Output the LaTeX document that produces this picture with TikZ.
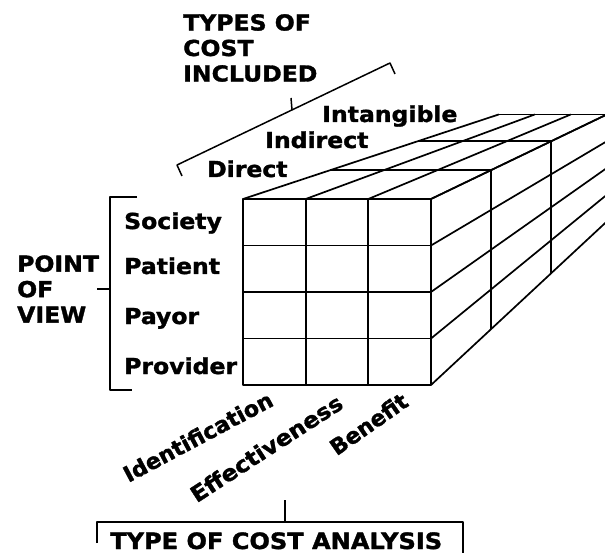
\documentclass[tikz,border=0pt]{standalone}
\usepackage{fontspec}
\usepackage{tikz}
\usetikzlibrary{calc}
\newfontfamily\cubefont{DejaVu Sans Bold}[FakeStretch=1.07, FakeBold=1.5]
\newfontfamily\cubefontn{DejaVu Sans Bold}[FakeBold=1.5]
\tikzset{
	lbl/.style={font=\cubefont\fontsize{22}{25.5}\selectfont, inner sep=0pt},
	lbln/.style={font=\cubefontn\fontsize{22}{25.5}\selectfont, inner sep=0pt},
	grid/.style={line width=1.7pt},
	brk/.style={line width=1.5pt}
}

\begin{document}
\begin{tikzpicture}[x=1pt, y=-1pt, line join=round]
	%%%%% START %%%%%
	\clip (0,0) rectangle (605,553);
	\coordinate (vp) at (845,0);
	
	% front face
	\draw[grid] (243,199) rectangle (431,385);
	\foreach \cx in {305.7,368.3}
		\draw[grid] (\cx,199) -- (\cx,385);
	\foreach \ry in {245.5,292,338.5}
		\draw[grid] (243,\ry) -- (431,\ry);
	
	% top face
	\foreach \cx in {243,305.7,368.3,431}
		\draw[grid] (\cx,199) -- ($(vp)!0.575!(\cx,199)$);
	\foreach \s in {0.855,0.71,0.575}
		\draw[grid] ($(vp)!\s!(243,199)$) -- ($(vp)!\s!(431,199)$);
	
	% right face
	\foreach \ry in {199,245.5,292,338.5,385}
		\draw[grid] (431,\ry) -- ($(vp)!0.575!(431,\ry)$);
	\foreach \s in {0.855,0.71,0.575}
		\draw[grid] ($(vp)!\s!(431,199)$) -- ($(vp)!\s!(431,385)$);
	
	% point of view
	\node[lbl, anchor=base west] (society) at (124,229) {Society};
	\node[lbl, anchor=base west] (patient) at (124,274) {Patient};
	\node[lbl, anchor=base west] (payor) at (124,324) {Payor};
	\node[lbl, anchor=base west] (provider) at (124,374) {Provider};
	\node[lbl, anchor=west, align=left] (pov) at (17,289) {POINT\\OF\\VIEW};
	\draw[brk] (137,197) -- (110,197) -- (110,390) -- (132,390);
	\draw[brk] (110,289) -- (97,289);
	
	% types of cost
	\node[lbl, anchor=base west] (direct) at (207,177) {Direct};
	\node[lbl, anchor=base west] (indirect) at (265,148) {Indirect};
	\node[lbl, anchor=base west] (intangible) at (322,122) {Intangible};
	\node[lbl, anchor=west, align=left] (types) at (183,48) {TYPES OF\\COST\\INCLUDED};
	\draw[brk] (182,176) -- (177,165) -- (390,63) -- (395,74);
	\draw[brk] (292,110) -- (291,98);
	
	% type of analysis
	\node[lbln, anchor=base east, rotate=28] (ident) at (275,405) {Identification};
	\node[lbl, anchor=base east, rotate=33] (effect) at (345,407) {Effectiveness};
	\node[lbln, anchor=base east, rotate=35] (benefit) at (410,405) {Benefit};
	\node[lbl, font=\cubefont\fontsize{22.5}{25.5}\selectfont, anchor=base west] (analysis) at (110,549) {TYPE OF COST ANALYSIS};
	\draw[brk] (97,543) -- (97,522) -- (463,522) -- (463,553);
	\draw[brk] (285,522) -- (285,500);
	
	%%%%% END %%%%%
\end{tikzpicture}
\end{document}
